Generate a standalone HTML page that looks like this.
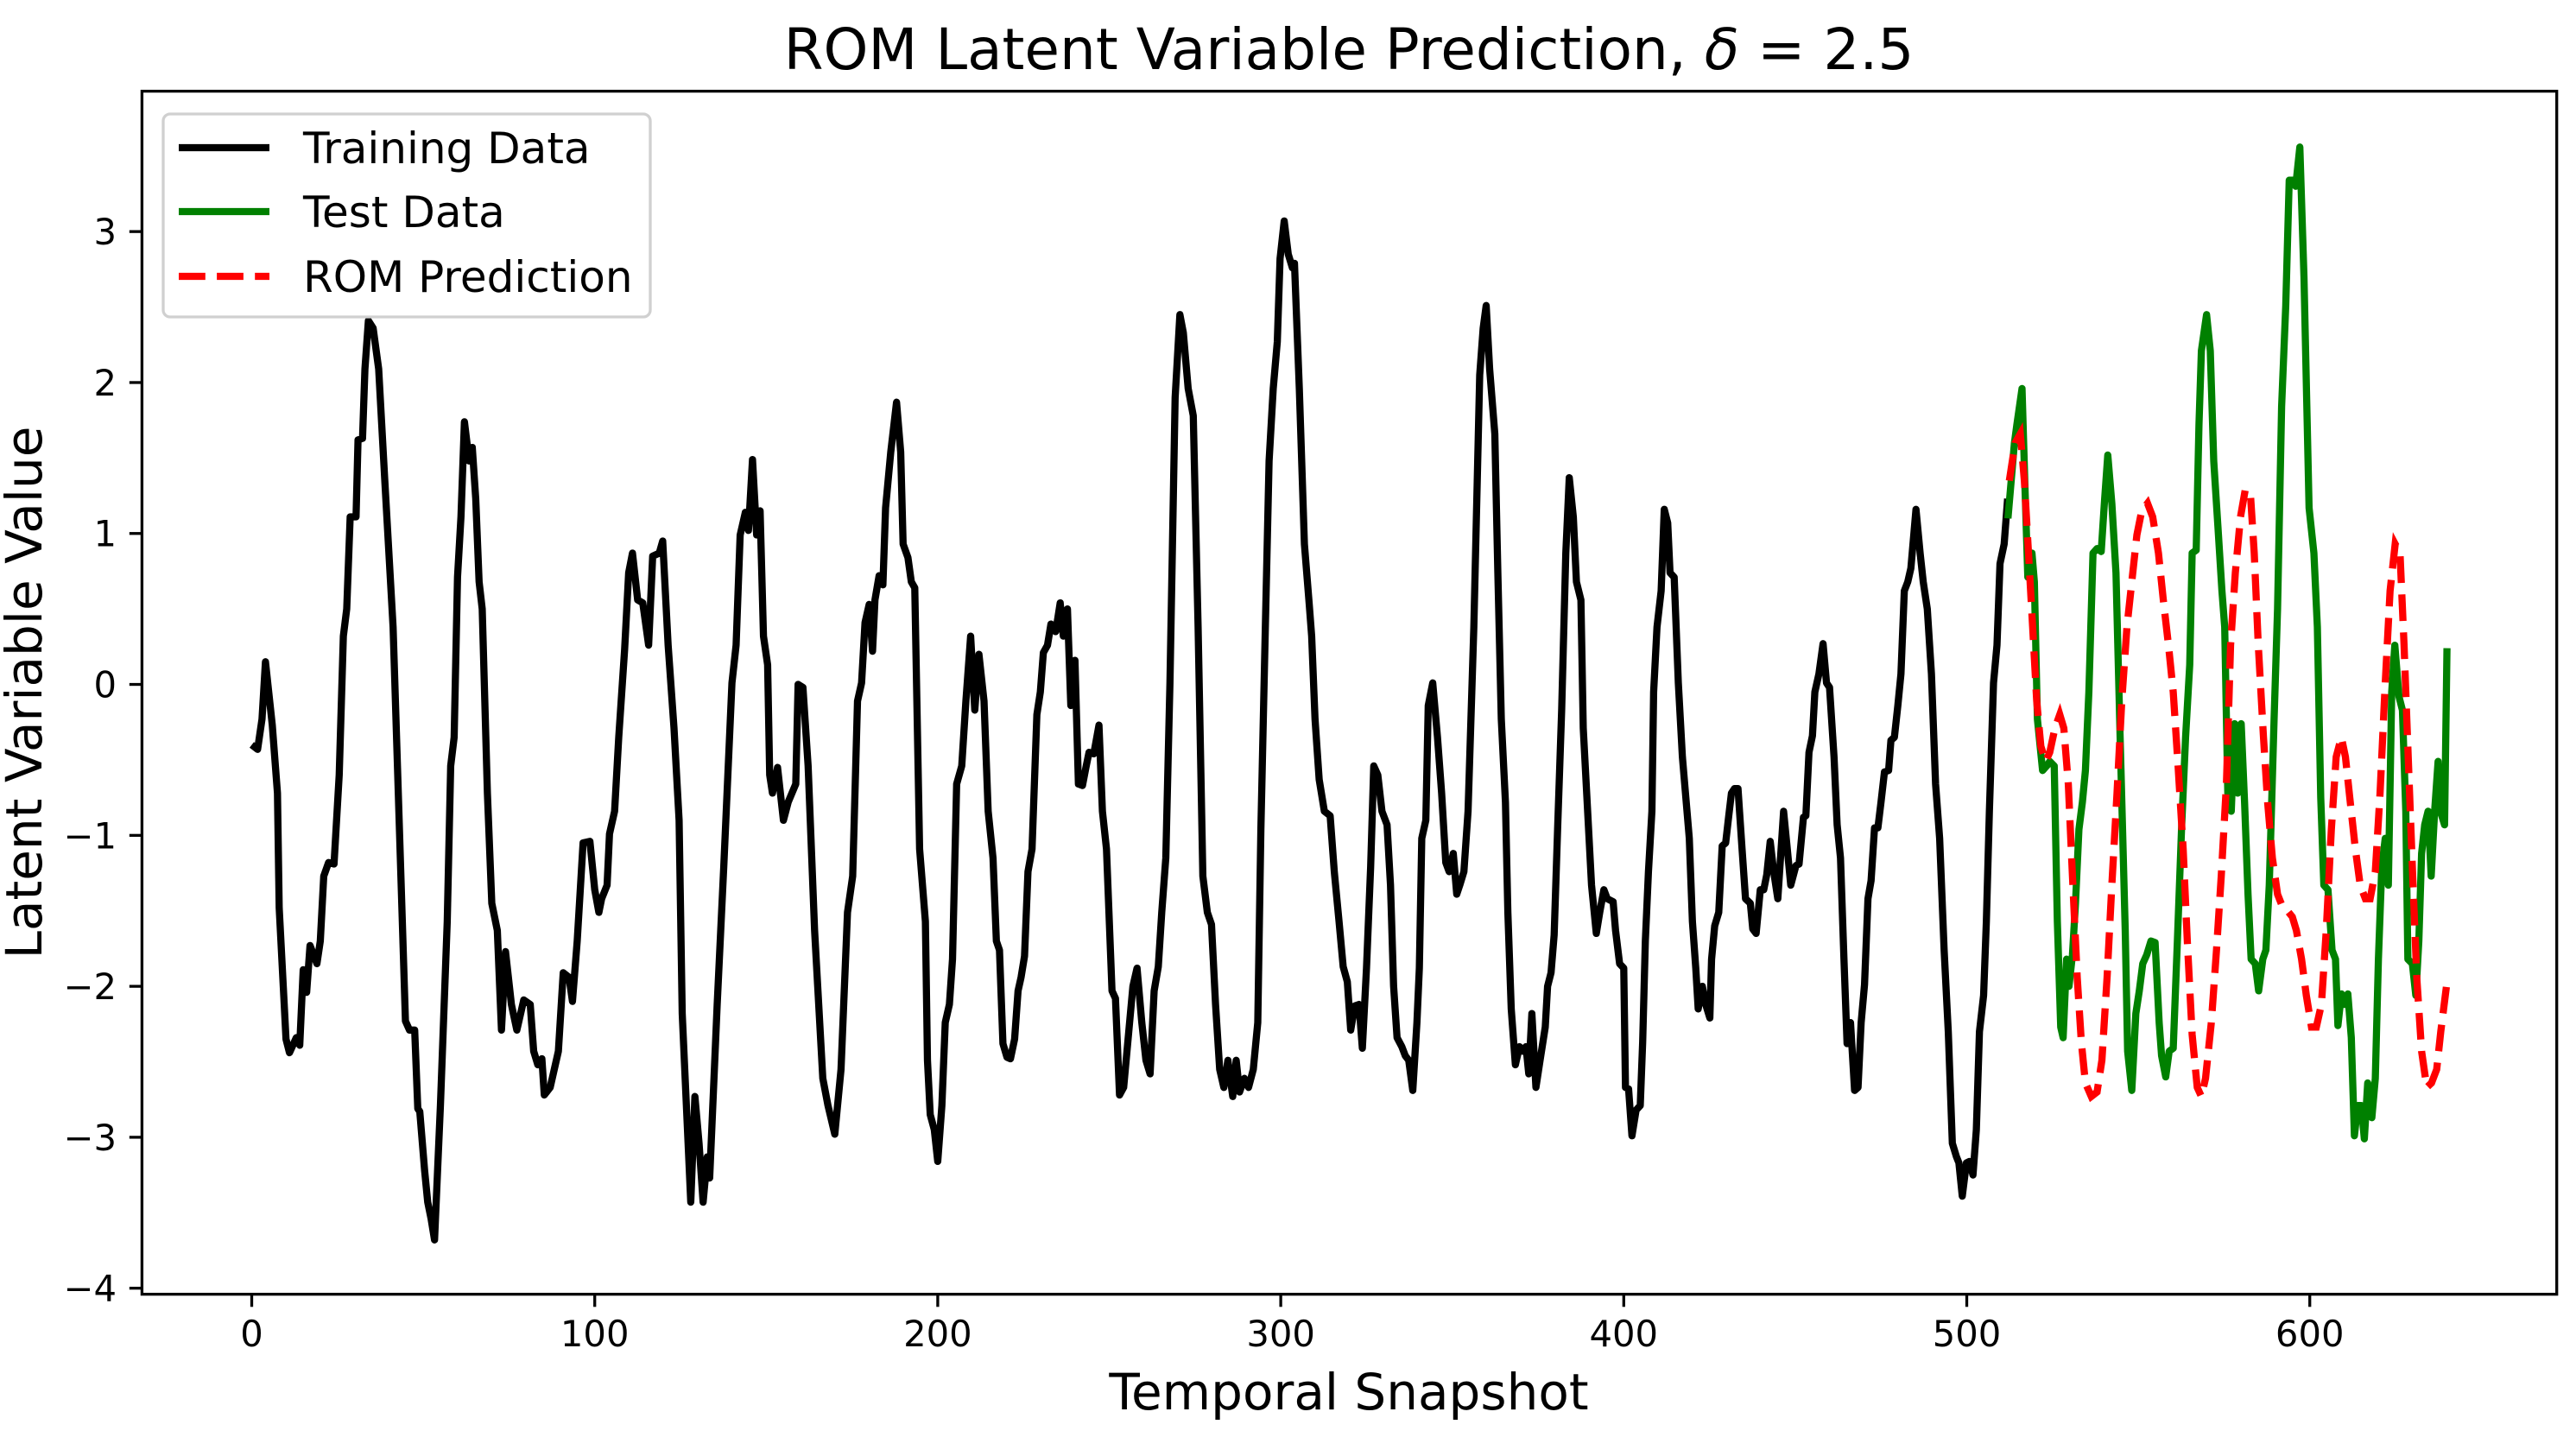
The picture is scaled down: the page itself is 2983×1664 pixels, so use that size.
<!DOCTYPE html>
<html><head><meta charset="utf-8"><style>
html,body{margin:0;padding:0;background:#fff;}
svg{display:block;font-family:"DejaVu Sans","Liberation Sans",sans-serif;}
</style></head><body>
<svg id="chart" width="2983" height="1664" viewBox="0 0 2983 1664" xmlns="http://www.w3.org/2000/svg">
<rect width="2983" height="1664" fill="#fff"/>
<text x="1562" y="80" font-size="66" text-anchor="middle">ROM Latent Variable Prediction, <tspan font-style="italic">δ</tspan> = 2.5</text>
<defs><clipPath id="clip"><rect x="164" y="105" width="2797" height="1394"/></clipPath></defs>
<g id="xticks"></g>
<g id="yticks"></g>
<g id="series" clip-path="url(#clip)"></g>
<rect x="164.4" y="105.6" width="2796.3" height="1393.1" fill="none" stroke="#000" stroke-width="3.3"/>
<text x="1562" y="1632" font-size="58" text-anchor="middle">Temporal Snapshot</text>
<text transform="translate(48,802) rotate(-90)" font-size="58" text-anchor="middle">Latent Variable Value</text>
<g>
<rect x="189" y="132" width="564" height="235" rx="8" fill="#fff" fill-opacity="0.8" stroke="#d0d0d0" stroke-width="3.3"/>
<line x1="207" y1="171" x2="312" y2="171" stroke="#000" stroke-width="8.3"/>
<text x="351" y="189" font-size="50">Training Data</text>
<line x1="207" y1="245" x2="312" y2="245" stroke="#008000" stroke-width="8.3"/>
<text x="351" y="263" font-size="50">Test Data</text>
<line x1="207" y1="320" x2="312" y2="320" stroke="#ff0000" stroke-width="8.3" stroke-dasharray="30.8 13.3"/>
<text x="351" y="338" font-size="50">ROM Prediction</text>
</g>
</svg>
<script>
const xTickVals = [0,100,200,300,400,500,600];
const yTickVals = [-4,-3,-2,-1,0,1,2,3];
const trainX = [0,1.7,3,4,6,7.5,8,10,11,13,14,15,16,17,19,20,21,22.4,24,25.5,26.7,27.7,28.7,30.4,31,32.3,33,34,35.4,37,38.8,41.2,44.8,46,47.5,48.4,49,50.4,51.3,52.3,53.3,55,57,58,59,60,61,62,63.4,64.3,65.3,66.3,67.2,68.7,70,71.6,72.8,74,75.7,77.3,79.3,81.2,82.2,83.4,84.6,85.3,87,89.4,90.8,92.5,93.5,94.9,96.6,98.6,100,101.2,102,103.6,104.3,105.8,107,108.7,109.9,111,112.5,114,115.7,116.9,118.8,119.8,121.4,123.1,124.6,125.5,128,129.2,130.4,131.6,132.8,133.5,135.7,137.6,140,141.2,142.4,143.9,144.8,146,147.2,148.2,149.2,150.4,151,151.8,153.3,155,156.4,158.6,159.3,160.7,162.2,164.1,166.5,168,170,171.8,173.7,175.2,176.6,177.8,178.8,180,181,181.7,182.9,184,184.8,186.3,188,189.2,189.9,191.3,192.3,193.3,194.7,196.4,197,197.8,199,200,201.2,202.2,203.4,204.3,205.5,207,208.2,209.6,210.8,212,213.5,214.7,216.1,217.1,218,219,220.2,221.2,222.4,223.4,224.3,225.3,226.3,227.5,228.9,229.9,230.8,232,233,234.4,235.7,236.6,237.8,238.8,240,241,242.2,243.2,244.1,245.5,247,248,249.2,250.8,251.8,253,254.2,255.7,256.9,258.1,259.5,260.7,261.9,263.1,264.3,265.3,266.5,267.7,269.2,270.6,271.6,273,274.5,275.9,277.3,278.6,279.8,281,282.2,283.4,284.6,286,287,288,289.4,290.6,292,293.3,294.2,295.4,296.6,297.8,299,299.8,301,302.2,303.4,304,305.4,306.9,308.3,309,310,311.2,312.7,314.4,315.6,317,318.2,319.4,320.4,321.6,322.8,323.8,325,326.2,327.1,328.3,329.5,331,332,332.9,333.9,335.3,336.3,337.3,338.5,339.7,340.4,341.1,342.3,343,344.3,345.7,346.9,348.1,349.1,350.3,351.3,352.2,353.4,354.6,356.3,358,359,359.9,360.9,362.4,363.3,364.3,365.5,366.2,367.2,368.4,369.6,370.6,371.5,372.3,373.2,374.4,375.6,377.1,377.8,378.8,379.7,380.7,381.9,383.1,384.1,385.3,386.2,387.5,388.2,389.4,390.6,392,393,394.2,395.2,396.9,397.6,398.8,400,400.5,401.4,402.4,403.6,404.8,405.5,406.3,407.2,408.2,408.7,409.7,410.9,411.8,412.8,413.5,414.7,415.9,417.1,418.1,419.1,420,421,421.7,422.9,423.9,425.1,425.6,426.5,427.7,428.7,429.7,430.6,431.4,432.3,433.3,434.5,435.5,436.9,437.6,438.6,439.8,440.8,441.7,442.7,443.7,444.9,446.6,447.5,448.7,450.2,451.1,452.4,453.1,454,455,455.7,456.9,458.1,459.1,460,461.3,462.2,463.2,464.2,465.1,466.1,467.3,468.3,469.2,470.2,471.2,472.1,473.1,474.1,475,476,477.2,477.9,478.9,479.9,480.8,481.8,482.8,483.7,485.2,486.4,487.3,488.5,489.7,490.9,492.1,493.4,494.6,495.8,497,497.7,498.7,499.9,500.8,501.8,502.8,503.7,504.9,505.7,506.6,507.8,508.8,509.7,510.9,511.9];
const trainY = [-0.40,-0.43,-0.23,0.15,-0.27,-0.72,-1.48,-2.35,-2.44,-2.34,-2.39,-1.89,-2.04,-1.73,-1.85,-1.70,-1.27,-1.18,-1.19,-0.6,0.32,0.50,1.11,1.11,1.62,1.63,2.09,2.41,2.36,2.09,1.35,0.38,-2.23,-2.29,-2.29,-2.81,-2.83,-3.22,-3.43,-3.54,-3.68,-2.79,-1.57,-0.54,-0.35,0.71,1.11,1.74,1.48,1.57,1.23,0.68,0.50,-0.72,-1.45,-1.63,-2.29,-1.77,-2.12,-2.29,-2.09,-2.12,-2.43,-2.52,-2.48,-2.72,-2.67,-2.43,-1.91,-1.94,-2.10,-1.70,-1.05,-1.04,-1.36,-1.51,-1.42,-1.33,-0.99,-0.84,-0.35,0.23,0.74,0.87,0.56,0.54,0.26,0.85,0.87,0.95,0.26,-0.29,-0.90,-2.18,-3.43,-2.73,-3.04,-3.43,-3.13,-3.27,-2.12,-1.21,0.01,0.26,0.99,1.14,1.02,1.49,0.99,1.15,0.32,0.13,-0.60,-0.72,-0.55,-0.90,-0.78,-0.66,0.0,-0.02,-0.54,-1.63,-2.61,-2.79,-2.98,-2.55,-1.51,-1.27,-0.11,0.01,0.41,0.53,0.22,0.56,0.72,0.66,1.17,1.54,1.87,1.54,0.93,0.84,0.68,0.64,-1.09,-1.57,-2.49,-2.85,-2.95,-3.16,-2.79,-2.24,-2.12,-1.82,-0.66,-0.54,-0.11,0.32,-0.17,0.20,-0.11,-0.84,-1.15,-1.70,-1.76,-2.38,-2.47,-2.48,-2.35,-2.03,-1.94,-1.80,-1.24,-1.09,-0.20,-0.05,0.21,0.26,0.40,0.35,0.54,0.32,0.50,-0.14,0.16,-0.66,-0.67,-0.55,-0.45,-0.46,-0.27,-0.84,-1.09,-2.03,-2.08,-2.72,-2.67,-2.30,-2.0,-1.88,-2.24,-2.49,-2.58,-2.03,-1.87,-1.51,-1.15,0.01,1.90,2.45,2.33,1.96,1.78,0.38,-1.27,-1.51,-1.59,-2.12,-2.55,-2.67,-2.49,-2.73,-2.49,-2.70,-2.61,-2.67,-2.55,-2.24,-0.96,0.26,1.48,1.96,2.27,2.82,3.07,2.85,2.76,2.79,1.96,0.93,0.53,0.32,-0.23,-0.63,-0.84,-0.87,-1.24,-1.57,-1.87,-1.97,-2.29,-2.13,-2.12,-2.41,-1.88,-1.21,-0.54,-0.60,-0.84,-0.93,-1.33,-2.0,-2.34,-2.40,-2.46,-2.49,-2.69,-2.24,-1.88,-1.02,-0.90,-0.14,0.01,-0.35,-0.72,-1.18,-1.24,-1.12,-1.39,-1.33,-1.24,-0.84,0.38,2.05,2.36,2.51,2.09,1.66,0.74,-0.23,-0.78,-1.51,-2.15,-2.52,-2.40,-2.43,-2.40,-2.58,-2.18,-2.67,-2.49,-2.27,-2.0,-1.91,-1.66,-0.96,-0.17,0.87,1.37,1.11,0.68,0.56,-0.29,-0.81,-1.33,-1.65,-1.51,-1.36,-1.42,-1.44,-1.63,-1.85,-1.88,-2.67,-2.68,-2.99,-2.82,-2.79,-2.37,-1.70,-1.24,-0.84,-0.05,0.38,0.62,1.16,1.07,0.74,0.71,0.01,-0.48,-0.75,-1.02,-1.57,-1.88,-2.15,-2.0,-2.12,-2.21,-1.82,-1.60,-1.51,-1.07,-1.05,-0.87,-0.72,-0.69,-0.69,-1.09,-1.42,-1.45,-1.62,-1.65,-1.36,-1.36,-1.26,-1.04,-1.24,-1.42,-0.84,-1.05,-1.33,-1.20,-1.19,-0.88,-0.87,-0.45,-0.34,-0.05,0.07,0.27,0.01,-0.02,-0.48,-0.93,-1.15,-1.82,-2.38,-2.24,-2.69,-2.67,-2.24,-1.99,-1.42,-1.30,-0.95,-0.95,-0.78,-0.58,-0.57,-0.37,-0.35,-0.14,0.07,0.62,0.68,0.77,1.16,0.87,0.68,0.50,0.07,-0.66,-1.02,-1.76,-2.30,-3.04,-3.13,-3.17,-3.39,-3.17,-3.16,-3.25,-2.95,-2.30,-2.06,-1.57,-0.84,0.01,0.26,0.80,0.93,1.23];
const testX = [512,513.9,514.6,516.1,517,517.8,519,519.7,520.6,522.1,523.3,524.2,525.5,526.4,527.4,528.1,529.1,529.8,530.8,531.7,532.7,533.7,534.6,535.6,536.8,538,539.2,540.2,541.1,542.3,543.5,544.7,546.2,546.9,548.1,549.3,550.3,551.3,552.5,553.7,554.9,556.1,556.8,558,559,560.2,561.4,562.6,563.8,565,565.7,566.9,567.7,568.4,569.9,571,572,573.2,574.4,575.2,576.1,577.1,578.1,579,580,581,582,582.9,584.1,585.1,586.3,587.2,588.2,589.6,590.6,591.8,593,594,595,595.9,597.1,598.3,599.8,601.2,602.2,603.2,604.1,605.3,606.5,607.5,608.2,609.2,610.1,611.1,612.1,613,614,615,615.9,616.9,618.1,619.1,620,621,622,622.9,623.9,624.8,626,627,628,628.6,629.9,630.9,631.8,632.6,633.5,634.5,635.4,636.4,637.4,638.1,639.3,640];
const testY = [1.10,1.60,1.72,1.96,1.29,0.71,0.87,0.68,-0.23,-0.57,-0.54,-0.51,-0.54,-1.57,-2.27,-2.34,-1.82,-2.0,-1.79,-1.45,-0.96,-0.78,-0.57,-0.05,0.87,0.90,0.88,1.23,1.52,1.20,0.74,-0.35,-1.63,-2.43,-2.69,-2.18,-2.03,-1.85,-1.79,-1.70,-1.71,-2.24,-2.46,-2.60,-2.43,-2.41,-1.70,-0.96,-0.35,0.13,0.87,0.89,1.72,2.21,2.45,2.21,1.48,1.05,0.62,0.38,-0.72,-0.84,-0.26,-0.72,-0.26,-0.78,-1.39,-1.82,-1.85,-2.03,-1.82,-1.76,-1.33,-0.23,0.50,1.84,2.51,3.34,3.34,3.30,3.56,2.70,1.17,0.87,0.38,-0.75,-1.33,-1.36,-1.76,-1.82,-2.26,-2.05,-2.12,-2.05,-2.34,-2.99,-2.79,-2.79,-3.01,-2.64,-2.87,-2.61,-1.82,-1.21,-1.02,-1.33,-0.05,0.26,-0.08,-0.17,-0.84,-1.82,-1.85,-2.06,-1.70,-1.12,-0.93,-0.84,-1.27,-0.84,-0.51,-0.84,-0.93,0.24];
const predX = [512.4,514.1,515.6,516.8,518,519.2,520.4,521.6,523,524.2,525.7,527.1,528.3,529.6,530.8,532.2,533.4,534.6,536.3,538,539.4,540.9,542.3,543.8,545.2,546.7,548.1,549.6,551,552.7,554.2,555.9,557.3,558.8,560.2,561.6,563.1,564.3,565.7,567.2,568.4,569.6,571.3,572.8,574.2,575.7,576.9,578.3,579.8,581.2,582.7,583.8,585,586.5,587.7,589.1,590.6,592,593.5,594.9,596.1,597.6,599,600.5,601.9,603.4,604.8,606.3,607.7,609.2,610.4,611.8,613.3,614.7,616.2,617.6,619.1,620.5,622,623.4,624.9,626.3,627.5,628.8,630,631.2,632.6,634.1,635.5,637,638.2,639.9];
const predY = [1.35,1.60,1.66,1.35,0.87,0.38,-0.11,-0.41,-0.51,-0.45,-0.29,-0.20,-0.29,-0.66,-1.27,-1.94,-2.37,-2.64,-2.73,-2.70,-2.49,-1.94,-1.33,-0.72,-0.11,0.38,0.68,0.99,1.15,1.20,1.11,0.87,0.56,0.26,-0.05,-0.54,-1.09,-1.70,-2.32,-2.67,-2.73,-2.61,-2.24,-1.76,-1.27,-0.66,0.26,0.74,1.11,1.29,1.26,0.87,0.26,-0.35,-0.78,-1.15,-1.39,-1.47,-1.50,-1.54,-1.63,-1.82,-2.06,-2.27,-2.27,-2.12,-1.63,-0.96,-0.48,-0.35,-0.48,-0.78,-1.09,-1.33,-1.42,-1.42,-1.24,-0.72,0.01,0.62,0.93,0.87,0.26,-0.54,-1.27,-1.94,-2.43,-2.67,-2.64,-2.55,-2.30,-1.99];

const NS = "http://www.w3.org/2000/svg";
const xMin = -32, xMax = 672, yMin = -4.04, yMax = 3.93;
const L = 164.4, R = 2960.7, T = 105.6, B = 1498.7;
function xs(v){ return L + (v - xMin) / (xMax - xMin) * (R - L); }
function ys(v){ return B - (v - yMin) / (yMax - yMin) * (B - T); }
function mk(tag, attrs){ const e = document.createElementNS(NS, tag); for (const k in attrs) e.setAttribute(k, attrs[k]); return e; }

const xg = document.getElementById('xticks');
xTickVals.forEach(v => {
  const t = mk('line', {x1: xs(v), x2: xs(v), y1: B, y2: B + 14.6, stroke: '#000', 'stroke-width': 3.3});
  
  
  xg.appendChild(t);
  const lb = mk('text', {x: xs(v), y: 1559, 'font-size': 41.7, 'text-anchor': 'middle'});
  
  
  lb.textContent = String(v);
  xg.appendChild(lb);
});
const yg = document.getElementById('yticks');
yTickVals.forEach(v => {
  const t = mk('line', {x1: L - 14.6, x2: L, y1: ys(v), y2: ys(v), stroke: '#000', 'stroke-width': 3.3});
  
  
  yg.appendChild(t);
  const lb = mk('text', {x: 135, y: ys(v) + 15, 'font-size': 41.7, 'text-anchor': 'end'});
  
  
  lb.textContent = v < 0 ? '\u2212' + Math.abs(v) : String(v);
  yg.appendChild(lb);
});
function pts(X, Y){ return X.map((x, i) => xs(x).toFixed(1) + ',' + ys(Y[i]).toFixed(1)).join(' '); }
const sg = document.getElementById('series');
const l1 = mk('polyline', {points: pts(trainX, trainY), fill: 'none', stroke: '#000', 'stroke-width': 8.3, 'stroke-linejoin': 'round'});


sg.appendChild(l1);
const l2 = mk('polyline', {points: pts(testX, testY), fill: 'none', stroke: '#008000', 'stroke-width': 8.3, 'stroke-linejoin': 'round'});


sg.appendChild(l2);
const l3 = mk('polyline', {points: pts(predX, predY), fill: 'none', stroke: '#ff0000', 'stroke-width': 8.3, 'stroke-dasharray': '30.8 13.3'});


sg.appendChild(l3);
</script>
</body></html>
